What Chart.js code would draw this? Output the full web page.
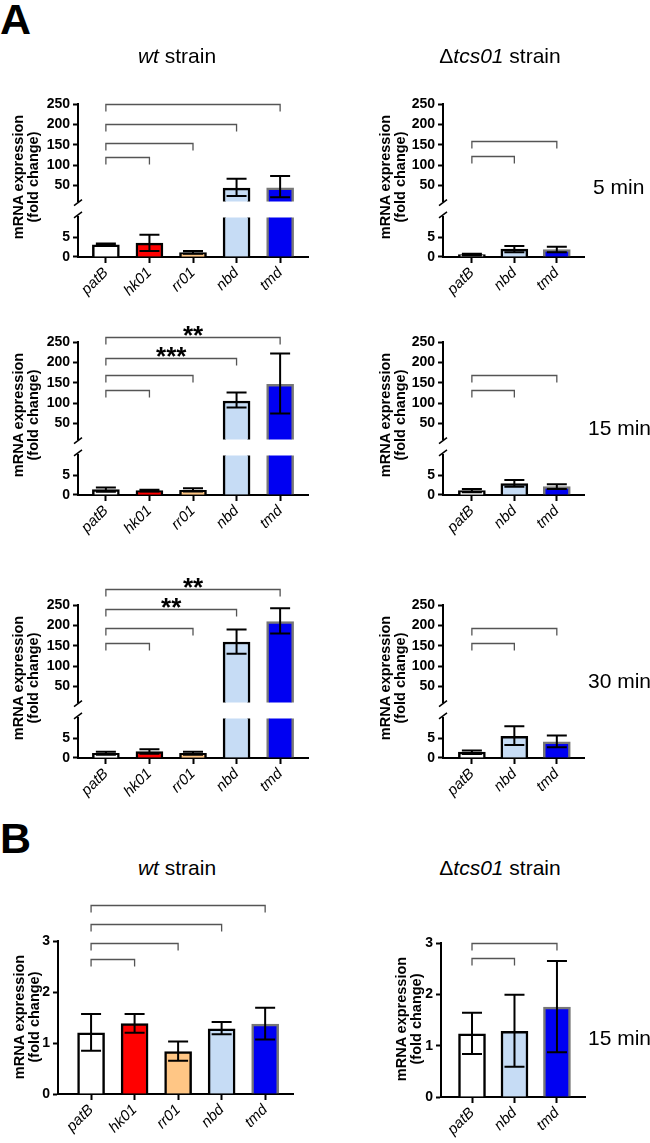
<!DOCTYPE html>
<html>
<head>
<meta charset="utf-8">
<script src="https://cdn.jsdelivr.net/npm/chart.js@4.4.1/dist/chart.umd.min.js"></script>
<style>
  html, body { margin: 0; padding: 0; background: #fff; }
  #fig { position: relative; width: 650px; height: 1143px; overflow: hidden; font-family: 'Liberation Sans', Arial, sans-serif; color: #000; }
  #fig canvas { position: absolute; }
  .txt { position: absolute; white-space: nowrap; line-height: 1; }
  .letter { font-size: 43px; font-weight: bold; }
  .title { font-size: 21px; text-align: center; width: 240px; }
  .time { font-size: 21px; }
  .ytitle { position: absolute; width: 200px; height: 30px; font-size: 14.5px; font-weight: bold; line-height: 15px; text-align: center; transform: rotate(-90deg); white-space: nowrap; }
</style>
</head>
<body>
<div id="fig"></div>
<script>
const genesWt = ['patB', 'hk01', 'rr01', 'nbd', 'tmd'];
const genesMut = ['patB', 'nbd', 'tmd'];

// A - 5 min
const wt5Mean = [3.1, 3.5, 1.1, 43, 44];
const wt5Low = [2.9, 1.5, 0.8, 24, 21];
const wt5High = [3.4, 5.6, 1.5, 66, 73];
const mut5Mean = [0.6, 2.0, 1.9];
const mut5Low = [0.4, 1.2, 1.2];
const mut5High = [0.8, 2.8, 2.6];

// A - 15 min
const wt15Mean = [1.4, 1.1, 1.2, 105, 146];
const wt15Low = [0.8, 0.9, 0.9, 89, 74];
const wt15High = [1.9, 1.3, 1.7, 126, 222];
const mut15Mean = [1.1, 2.9, 2.1];
const mut15Low = [0.7, 2.1, 1.5];
const mut15High = [1.5, 3.8, 2.7];

// A - 30 min
const wt30Mean = [1.2, 1.6, 1.2, 159, 209];
const wt30Low = [0.8, 1.1, 0.8, 130, 180];
const wt30High = [1.6, 2.2, 1.6, 190, 242];
const mut30Mean = [1.5, 5.5, 4.1];
const mut30Low = [1.0, 3.3, 2.7];
const mut30High = [1.9, 8.0, 5.7];

// B - 15 min
const bWtMean = [1.2, 1.38, 0.83, 1.28, 1.37];
const bWtLow = [0.85, 1.2, 0.65, 1.17, 1.07];
const bWtHigh = [1.57, 1.57, 1.03, 1.41, 1.69];
const bMutMean = [1.23, 1.28, 1.75];
const bMutLow = [0.84, 0.59, 0.87];
const bMutHigh = [1.64, 1.99, 2.65];

// comparisons against patB: target gene index, bracket level, significance
const wt5BracketTo = [4, 3, 2, 1];
const wt5BracketAt = [250, 200, 155, 120];
const wt5Stars = ['', '', '', ''];
const mut5BracketTo = [2, 1];
const mut5BracketAt = [158, 122];
const wt15BracketTo = [4, 3, 2, 1];
const wt15BracketAt = [262, 211, 170, 133];
const wt15Stars = ['**', '***', '', ''];
const mut15BracketTo = [2, 1];
const mut15BracketAt = [170, 133];
const wt30BracketTo = [4, 3, 2, 1];
const wt30BracketAt = [289, 240, 194, 157];
const wt30Stars = ['**', '**', '', ''];
const mut30BracketTo = [2, 1];
const mut30BracketAt = [194, 157];
const bWtBracketTo = [4, 3, 2, 1];
const bWtBracketAt = [3.7, 3.33, 2.96, 2.65];
const bMutBracketTo = [2, 1];
const bMutBracketAt = [3.0, 2.7];

const upperTicks = [50, 100, 150, 200, 250];
const lowerTicks = [0, 5];
const bTicks = [0, 1, 2, 3];

const geneFill = { patB: '#ffffff', hk01: '#ff0000', rr01: '#ffc685', nbd: '#c6dcf5', tmd: '#0000f2' };
const geneEdge = { patB: '#000000', hk01: '#000000', rr01: '#000000', nbd: '#000000', tmd: '#777777' };

const FONT = "'Liberation Sans', Arial, sans-serif";
Chart.defaults.font.family = FONT;
Chart.defaults.color = '#000';

const fig = document.getElementById('fig');

function addText(html, cls, left, baseline, size) {
  const el = document.createElement('div');
  el.className = 'txt ' + cls;
  el.innerHTML = html;
  el.style.left = left + 'px';
  el.style.top = (baseline - 0.8465 * size) + 'px';
  fig.appendChild(el);
}

function addYTitle(cx, cy) {
  const el = document.createElement('div');
  el.className = 'ytitle';
  el.innerHTML = 'mRNA expression<br>(fold change)';
  el.style.left = (cx - 100) + 'px';
  el.style.top = (cy - 15) + 'px';
  fig.appendChild(el);
}

function addCanvas(left, top, w, h) {
  const c = document.createElement('canvas');
  c.width = w;
  c.height = h;
  c.style.left = left + 'px';
  c.style.top = top + 'px';
  c.style.width = w + 'px';
  c.style.height = h + 'px';
  fig.appendChild(c);
  return c;
}

const errorBarPlugin = {
  id: 'errorBars',
  afterDatasetsDraw(chart, args, opts) {
    const { ctx, chartArea, scales } = chart;
    const { min, max } = scales.y;
    const meta = chart.getDatasetMeta(0);
    ctx.save();
    ctx.beginPath();
    ctx.rect(chartArea.left, chartArea.top, chartArea.right - chartArea.left, chartArea.bottom - chartArea.top);
    ctx.clip();
    ctx.strokeStyle = '#000';
    ctx.lineWidth = 2;
    meta.data.forEach((bar, i) => {
      const loVal = opts.low[i];
      const hiVal = opts.high[i];
      if (hiVal < min || loVal > max) return;
      const lo = scales.y.getPixelForValue(Math.max(loVal, min));
      const hi = scales.y.getPixelForValue(Math.min(hiVal, max));
      ctx.beginPath();
      ctx.moveTo(bar.x, lo);
      ctx.lineTo(bar.x, hi);
      if (loVal >= min) {
        ctx.moveTo(bar.x - 10, lo);
        ctx.lineTo(bar.x + 10, lo);
      }
      if (hiVal <= max) {
        ctx.moveTo(bar.x - 10, hi);
        ctx.lineTo(bar.x + 10, hi);
      }
      ctx.stroke();
    });
    ctx.restore();
  }
};

const bracketPlugin = {
  id: 'brackets',
  afterDraw(chart, args, opts) {
    if (!opts.to || !opts.to.length) return;
    const { ctx, scales } = chart;
    const x0 = scales.x.getPixelForValue(0);
    ctx.save();
    opts.to.forEach((t, i) => {
      const x1 = scales.x.getPixelForValue(t);
      const y = Math.round(scales.y.getPixelForValue(opts.at[i])) + 0.5;
      ctx.strokeStyle = '#555';
      ctx.lineWidth = 1.3;
      ctx.beginPath();
      ctx.moveTo(x0, y + 7);
      ctx.lineTo(x0, y);
      ctx.lineTo(x1, y);
      ctx.lineTo(x1, y + 7);
      ctx.stroke();
      const stars = opts.stars ? opts.stars[i] : '';
      if (stars) {
        ctx.fillStyle = '#000';
        ctx.font = 'bold 26px ' + FONT;
        ctx.textAlign = 'center';
        ctx.textBaseline = 'alphabetic';
        ctx.fillText(stars, (x0 + x1) / 2, y + 6);
      }
    });
    ctx.restore();
  }
};

const breakPlugin = {
  id: 'axisBreak',
  afterDraw(chart, args, opts) {
    if (!opts.edge) return;
    const { ctx, chartArea } = chart;
    const x = chartArea.left;
    const y = opts.edge === 'bottom' ? chartArea.bottom + 1 : chartArea.top - 2.5;
    ctx.save();
    ctx.strokeStyle = '#000';
    ctx.lineWidth = 1.5;
    ctx.beginPath();
    ctx.moveTo(x - 4, y + 3);
    ctx.lineTo(x + 4, y - 3);
    ctx.stroke();
    ctx.restore();
  }
};

function drawBars(canvas, labels, mean, low, high, cfg) {
  return new Chart(canvas, {
    type: 'bar',
    data: {
      datasets: [{
        data: mean.map((v, i) => ({ x: i, y: v })),
        backgroundColor: labels.map((g) => geneFill[g]),
        borderColor: labels.map((g) => geneEdge[g]),
        borderWidth: 2.5,
        barThickness: 27,
        clip: 0
      }]
    },
    options: {
      responsive: false,
      animation: false,
      events: [],
      layout: { autoPadding: false, padding: cfg.padding },
      scales: {
        x: {
          type: 'linear',
          display: cfg.showX,
          offset: false,
          min: -cfg.padL,
          max: labels.length - 1 + cfg.padR,
          afterBuildTicks: (s) => { s.ticks = labels.map((_, i) => ({ value: i })); },
          afterFit: (s) => { if (cfg.showX) s.height = 56; },
          grid: { drawOnChartArea: false, offset: false, color: '#000', tickLength: 6, tickWidth: 2 },
          border: { color: '#000', width: 2 },
          ticks: {
            autoSkip: false,
            minRotation: 45,
            maxRotation: 45,
            padding: 1,
            font: { size: 15, style: 'italic' },
            callback: (v) => labels[v] ?? ''
          }
        },
        y: {
          min: cfg.yMin,
          max: cfg.yMax,
          afterBuildTicks: (s) => { s.ticks = cfg.yTicks.map((v) => ({ value: v })); },
          afterFit: (s) => { s.width = 60; },
          grid: { drawOnChartArea: false, color: '#000', tickLength: 5, tickWidth: 2 },
          border: { color: '#000', width: 2 },
          ticks: { padding: 3, font: { size: 14, weight: 'bold' } }
        }
      },
      plugins: {
        legend: { display: false },
        tooltip: { enabled: false },
        errorBars: { low, high },
        brackets: { to: cfg.to || [], at: cfg.at || [], stars: cfg.stars || [] },
        axisBreak: { edge: cfg.breakEdge || '' }
      }
    },
    plugins: [errorBarPlugin, bracketPlugin, breakPlugin]
  });
}

// broken-axis panel: upper 10-250, lower 0-10
function panelA(p) {
  const padRight = 12;
  const left = p.axisX - 60;
  const w = p.right - p.axisX + 60 + padRight;
  const upper = addCanvas(left, p.top - 48, w, 48 + 99 + 10);
  drawBars(upper, p.labels, p.mean, p.low, p.high, {
    showX: false, padL: p.padL, padR: p.padR,
    padding: { top: 48, bottom: 10, left: 0, right: padRight },
    yMin: 10, yMax: 250, yTicks: upperTicks,
    to: p.to, at: p.at, stars: p.stars, breakEdge: 'bottom'
  });
  const lower = addCanvas(left, p.top + 112 - 10, w, 10 + 41 + 56);
  drawBars(lower, p.labels, p.mean, p.low, p.high, {
    showX: true, padL: p.padL, padR: p.padR,
    padding: { top: 10, bottom: 0, left: 0, right: padRight },
    yMin: 0, yMax: 10, yTicks: lowerTicks, breakEdge: 'top'
  });
}

function panelB(p) {
  const padRight = 12;
  const left = p.axisX - 60;
  const w = p.right - p.axisX + 60 + padRight;
  const c = addCanvas(left, p.top - 55, w, 55 + (p.bottom - p.top) + 56);
  drawBars(c, p.labels, p.mean, p.low, p.high, {
    showX: true, padL: p.padL, padR: p.padR,
    padding: { top: 55, bottom: 0, left: 0, right: padRight },
    yMin: 0, yMax: 3, yTicks: bTicks,
    to: p.to, at: p.at
  });
}

panelA({ axisX: 78, right: 308, top: 104, labels: genesWt, mean: wt5Mean, low: wt5Low, high: wt5High, to: wt5BracketTo, at: wt5BracketAt, stars: wt5Stars, padL: 0.64, padR: 0.64 });
panelA({ axisX: 443, right: 584, top: 104, labels: genesMut, mean: mut5Mean, low: mut5Low, high: mut5High, to: mut5BracketTo, at: mut5BracketAt, padL: 0.68, padR: 0.64 });
panelA({ axisX: 78, right: 308, top: 342, labels: genesWt, mean: wt15Mean, low: wt15Low, high: wt15High, to: wt15BracketTo, at: wt15BracketAt, stars: wt15Stars, padL: 0.64, padR: 0.64 });
panelA({ axisX: 443, right: 584, top: 342, labels: genesMut, mean: mut15Mean, low: mut15Low, high: mut15High, to: mut15BracketTo, at: mut15BracketAt, padL: 0.68, padR: 0.64 });
panelA({ axisX: 78, right: 308, top: 605, labels: genesWt, mean: wt30Mean, low: wt30Low, high: wt30High, to: wt30BracketTo, at: wt30BracketAt, stars: wt30Stars, padL: 0.64, padR: 0.64 });
panelA({ axisX: 443, right: 584, top: 605, labels: genesMut, mean: mut30Mean, low: mut30Low, high: mut30High, to: mut30BracketTo, at: mut30BracketAt, padL: 0.68, padR: 0.64 });

panelB({ axisX: 58, right: 293, top: 941, bottom: 1094, labels: genesWt, mean: bWtMean, low: bWtLow, high: bWtHigh, to: bWtBracketTo, at: bWtBracketAt, padL: 0.76, padR: 0.64 });
panelB({ axisX: 441, right: 585, top: 943, bottom: 1097, labels: genesMut, mean: bMutMean, low: bMutLow, high: bMutHigh, to: bMutBracketTo, at: bMutBracketAt, padL: 0.73, padR: 0.66 });

// texts
addText('A', 'letter', 0, 34, 43);
addText('B', 'letter', 0, 853, 43);
addText('<i>wt</i> strain', 'title', 177 - 120, 63, 21);
addText('Δ<i>tcs01</i> strain', 'title', 500 - 120, 63, 21);
addText('<i>wt</i> strain', 'title', 177 - 120, 875, 21);
addText('Δ<i>tcs01</i> strain', 'title', 500 - 120, 875, 21);
addText('5 min', 'time', 593, 194, 21);
addText('15 min', 'time', 588, 435, 21);
addText('30 min', 'time', 588, 688, 21);
addText('15 min', 'time', 588, 1045, 21);

addYTitle(25.5, 177);
addYTitle(393, 177);
addYTitle(25.5, 415);
addYTitle(393, 415);
addYTitle(25.5, 678);
addYTitle(393, 678);
addYTitle(27, 1017);
addYTitle(408.5, 1019);
</script>
</body>
</html>
